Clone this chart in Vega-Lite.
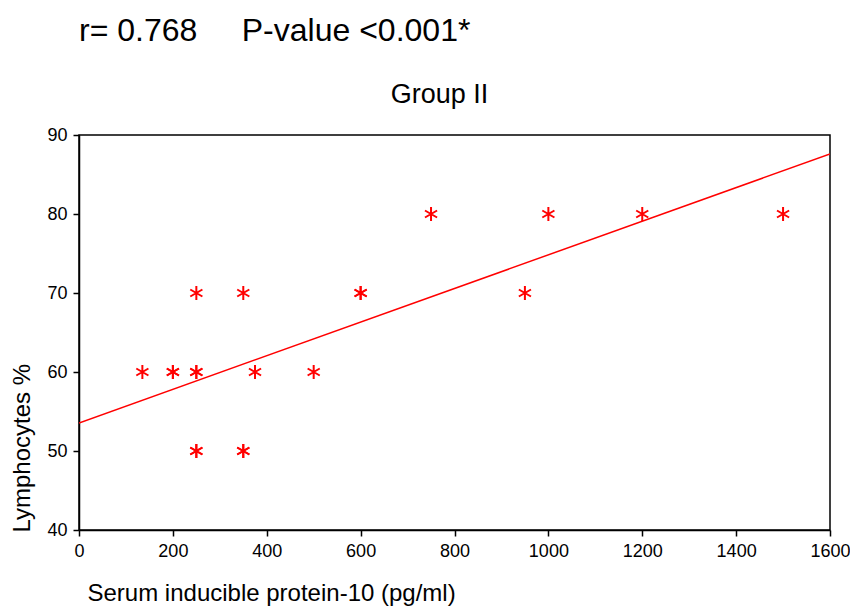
{
  "$schema": "https://vega.github.io/schema/vega-lite/v6.json",
  "width": 751,
  "height": 395,
  "autosize": "none",
  "padding": {"left": 79, "top": 135, "right": 20, "bottom": 76},
  "background": "white",
  "config": {
    "font": "Liberation Sans",
    "view": {"stroke": "black", "strokeWidth": 1.5},
    "axis": {
      "grid": false,
      "domainColor": "black",
      "domainWidth": 1.5,
      "tickColor": "black",
      "tickWidth": 1.5,
      "tickSize": 6,
      "labelColor": "black",
      "labelFontSize": 18,
      "labelPadding": 6,
      "labelFlush": false,
      "labelOverlap": false,
      "titleColor": "black",
      "titleFontSize": 24,
      "titleFontWeight": "normal"
    }
  },
  "title": {
    "text": "r= 0.768\u00a0\u00a0\u00a0\u00a0\u00a0P-value <0.001*",
    "anchor": "start",
    "frame": "group",
    "fontSize": 32,
    "fontWeight": "normal",
    "color": "black",
    "offset": 32
  },
  "datasets": {
    "points": [
      {"ip10": 135, "lymph": 60},
      {"ip10": 200, "lymph": 60},
      {"ip10": 200, "lymph": 60},
      {"ip10": 250, "lymph": 60},
      {"ip10": 250, "lymph": 60},
      {"ip10": 250, "lymph": 70},
      {"ip10": 250, "lymph": 50},
      {"ip10": 250, "lymph": 50},
      {"ip10": 350, "lymph": 70},
      {"ip10": 350, "lymph": 50},
      {"ip10": 350, "lymph": 50},
      {"ip10": 375, "lymph": 60},
      {"ip10": 500, "lymph": 60},
      {"ip10": 600, "lymph": 70},
      {"ip10": 600, "lymph": 70},
      {"ip10": 750, "lymph": 80},
      {"ip10": 950, "lymph": 70},
      {"ip10": 1000, "lymph": 80},
      {"ip10": 1200, "lymph": 80},
      {"ip10": 1500, "lymph": 80}
    ],
    "fit": [
      {"ip10": 0, "lymph": 53.55},
      {"ip10": 1600, "lymph": 87.6}
    ]
  },
  "layer": [
    {
      "data": {"name": "fit"},
      "mark": {"type": "line", "color": "#ff0000", "strokeWidth": 1.5, "clip": true},
      "encoding": {
        "x": {
          "field": "ip10",
          "type": "quantitative",
          "scale": {"domain": [0, 1600], "nice": false, "zero": false},
          "axis": {
            "orient": "top",
            "title": "Group II",
            "labels": false,
            "ticks": false,
            "domain": false,
            "titleFontSize": 27,
            "titleX": 360,
            "titleY": -33,
            "titleAlign": "center",
            "titleBaseline": "alphabetic"
          }
        },
        "y": {
          "field": "lymph",
          "type": "quantitative",
          "scale": {"domain": [40, 90], "nice": false, "zero": false}
        }
      }
    },
    {
      "data": {"name": "points"},
      "mark": {
        "type": "point",
        "shape": "M0,-1L0,1M-0.866,-0.5L0.866,0.5M-0.866,0.5L0.866,-0.5",
        "filled": false,
        "stroke": "#ff0000",
        "strokeWidth": 2,
        "size": 196,
        "opacity": 1
      },
      "encoding": {
        "x": {
          "field": "ip10",
          "type": "quantitative",
          "scale": {"domain": [0, 1600], "nice": false, "zero": false},
          "axis": {
            "orient": "bottom",
            "title": "Serum inducible protein-10 (pg/ml)",
            "values": [0, 200, 400, 600, 800, 1000, 1200, 1400, 1600],
            "format": "d",
            "titleAnchor": "start",
            "titleAlign": "left",
            "titleX": 8,
            "titleY": 70,
            "titleBaseline": "alphabetic"
          }
        },
        "y": {
          "field": "lymph",
          "type": "quantitative",
          "scale": {"domain": [40, 90], "nice": false, "zero": false},
          "axis": {
            "title": "Lymphocytes %",
            "values": [40, 50, 60, 70, 80, 90],
            "format": "d",
            "titleAnchor": "start",
            "titleAlign": "left",
            "titleAngle": -90,
            "titleX": -57,
            "titleY": 397,
            "titleBaseline": "middle"
          }
        }
      }
    }
  ],
  "resolve": {"axis": {"x": "independent"}}
}
